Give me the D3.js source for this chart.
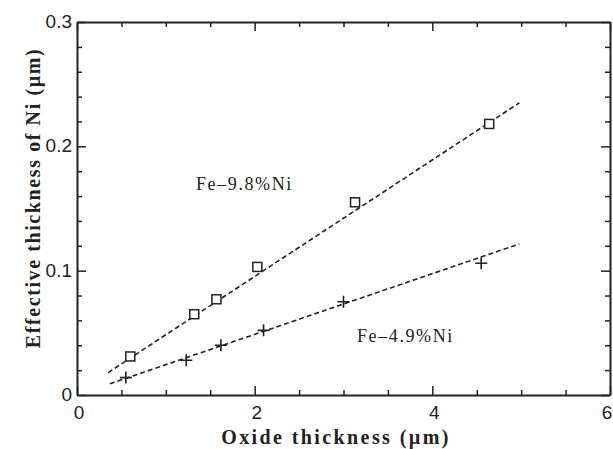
<!DOCTYPE html>
<html>
<head>
<script src="https://cdn.jsdelivr.net/npm/d3@7"></script>
<style>
  html, body { margin: 0; padding: 0; background: #fff; }
  .tick-label { font: 19px "Liberation Sans", Arial, sans-serif; fill: #222; }
  .axis-title { font: bold 20px "Liberation Serif", "Times New Roman", serif; fill: #222; }
  .series-label { font: 18px "Liberation Serif", "Times New Roman", serif; fill: #222; letter-spacing: 1.6px; }
</style>
</head>
<body>
<div id="chart"></div>
<script>
// data
var ni98X = [0.6, 1.32, 1.57, 2.03, 3.13, 4.64];
var ni98Y = [0.031, 0.065, 0.077, 0.103, 0.155, 0.218];
var ni49X = [0.55, 1.23, 1.62, 2.1, 3.0, 4.55];
var ni49Y = [0.014, 0.028, 0.040, 0.052, 0.075, 0.106];
// fitted dashed lines, start and end points
var fit98X = [0.35, 4.98];
var fit98Y = [0.018, 0.235];
var fit49X = [0.37, 4.98];
var fit49Y = [0.009, 0.1215];
var xTicks = [0, 2, 4, 6];
var yTicks = [0, 0.1, 0.2, 0.3];
var yTickLabels = ["0", "0.1", "0.2", "0.3"];

var width = 613, height = 449;
var margin = {top: 22, right: 3, bottom: 54, left: 77};
var ink = "#222";

var svg = d3.select("#chart").append("svg")
  .attr("width", width)
  .attr("height", height);

var x = d3.scaleLinear().domain([0, 6]).range([margin.left, width - margin.right]);
var y = d3.scaleLinear().domain([0, 0.3]).range([height - margin.bottom, margin.top]);

// inward ticks on all four sides
var xMinor = d3.range(0, 6.01, 0.5);
var yMinor = d3.range(0, 0.301, 0.02);

function isMajor(v, list) {
  return list.some(function(t) { return Math.abs(t - v) < 1e-6; });
}

var bottomAxis = d3.axisBottom(x).tickValues(xMinor)
  .tickSizeInner(0).tickSizeOuter(0).tickFormat("");
var topAxis = d3.axisTop(x).tickValues(xMinor)
  .tickSizeInner(0).tickSizeOuter(0).tickFormat("");
var leftAxis = d3.axisLeft(y).tickValues(yMinor)
  .tickSizeInner(0).tickSizeOuter(0).tickFormat("");
var rightAxis = d3.axisRight(y).tickValues(yMinor)
  .tickSizeInner(0).tickSizeOuter(0).tickFormat("");

function styleAxis(g, dir, list) {
  g.select(".domain").attr("stroke", ink).attr("stroke-width", 2);
  g.selectAll(".tick line").each(function(d) {
    var len = isMajor(d, list) ? 9 : 5;
    var l = d3.select(this).attr("stroke", ink).attr("stroke-width", 1.5);
    if (dir == "bottom") l.attr("y2", -len);
    if (dir == "top") l.attr("y2", len);
    if (dir == "left") l.attr("x2", len);
    if (dir == "right") l.attr("x2", -len);
  });
}

svg.append("g").attr("transform", "translate(0," + y(0) + ")")
  .call(bottomAxis).call(styleAxis, "bottom", xTicks);
svg.append("g").attr("transform", "translate(0," + y(0.3) + ")")
  .call(topAxis).call(styleAxis, "top", xTicks);
svg.append("g").attr("transform", "translate(" + x(0) + ",0)")
  .call(leftAxis).call(styleAxis, "left", yTicks);
svg.append("g").attr("transform", "translate(" + x(6) + ",0)")
  .call(rightAxis).call(styleAxis, "right", yTicks);

// tick labels
svg.selectAll(".xlab").data(xTicks).enter().append("text")
  .attr("class", "tick-label")
  .attr("x", function(d) { return Math.min(x(d) + 2, width - 6); })
  .attr("y", y(0) + 24)
  .attr("text-anchor", "middle")
  .text(function(d) { return d; });

svg.selectAll(".ylab").data(yTicks).enter().append("text")
  .attr("class", "tick-label")
  .attr("x", x(0) - 5)
  .attr("y", function(d) { return y(d) + 6; })
  .attr("text-anchor", "end")
  .text(function(d, i) { return yTickLabels[i]; });

// axis titles
svg.append("text").attr("class", "axis-title")
  .attr("x", 336).attr("y", 444)
  .attr("text-anchor", "middle")
  .style("letter-spacing", "2.4px")
  .text("Oxide  thickness  (\u00b5m)");

svg.append("text").attr("class", "axis-title")
  .attr("transform", "translate(40,198) rotate(-90)")
  .attr("text-anchor", "middle")
  .style("letter-spacing", "1.6px")
  .text("Effective  thickness  of  Ni  (\u00b5m)");

// dashed fit lines
var line = d3.line().x(function(d) { return x(d[0]); }).y(function(d) { return y(d[1]); });

[[fit98X, fit98Y], [fit49X, fit49Y]].forEach(function(f) {
  svg.append("path")
    .datum(d3.zip(f[0], f[1]))
    .attr("d", line)
    .attr("fill", "none")
    .attr("stroke", ink)
    .attr("stroke-width", 1.6)
    .attr("stroke-dasharray", "5,3");
});

// square markers
svg.selectAll(".sq").data(d3.zip(ni98X, ni98Y)).enter().append("rect")
  .attr("x", function(d) { return x(d[0]) - 4.5; })
  .attr("y", function(d) { return y(d[1]) - 4.5; })
  .attr("width", 9).attr("height", 9)
  .attr("fill", "#fff")
  .attr("stroke", ink)
  .attr("stroke-width", 1.5);

// plus markers
svg.selectAll(".pl").data(d3.zip(ni49X, ni49Y)).enter().append("path")
  .attr("d", function(d) {
    var cx = x(d[0]), cy = y(d[1]);
    return "M" + (cx - 6) + "," + cy + "H" + (cx + 6) + "M" + cx + "," + (cy - 6) + "V" + (cy + 6);
  })
  .attr("stroke", ink)
  .attr("stroke-width", 1.6);

// series labels
svg.append("text").attr("class", "series-label")
  .attr("x", 196).attr("y", 190)
  .text("Fe\u20139.8%Ni");
svg.append("text").attr("class", "series-label")
  .attr("x", 357).attr("y", 342)
  .text("Fe\u20134.9%Ni");
</script>
</body>
</html>
